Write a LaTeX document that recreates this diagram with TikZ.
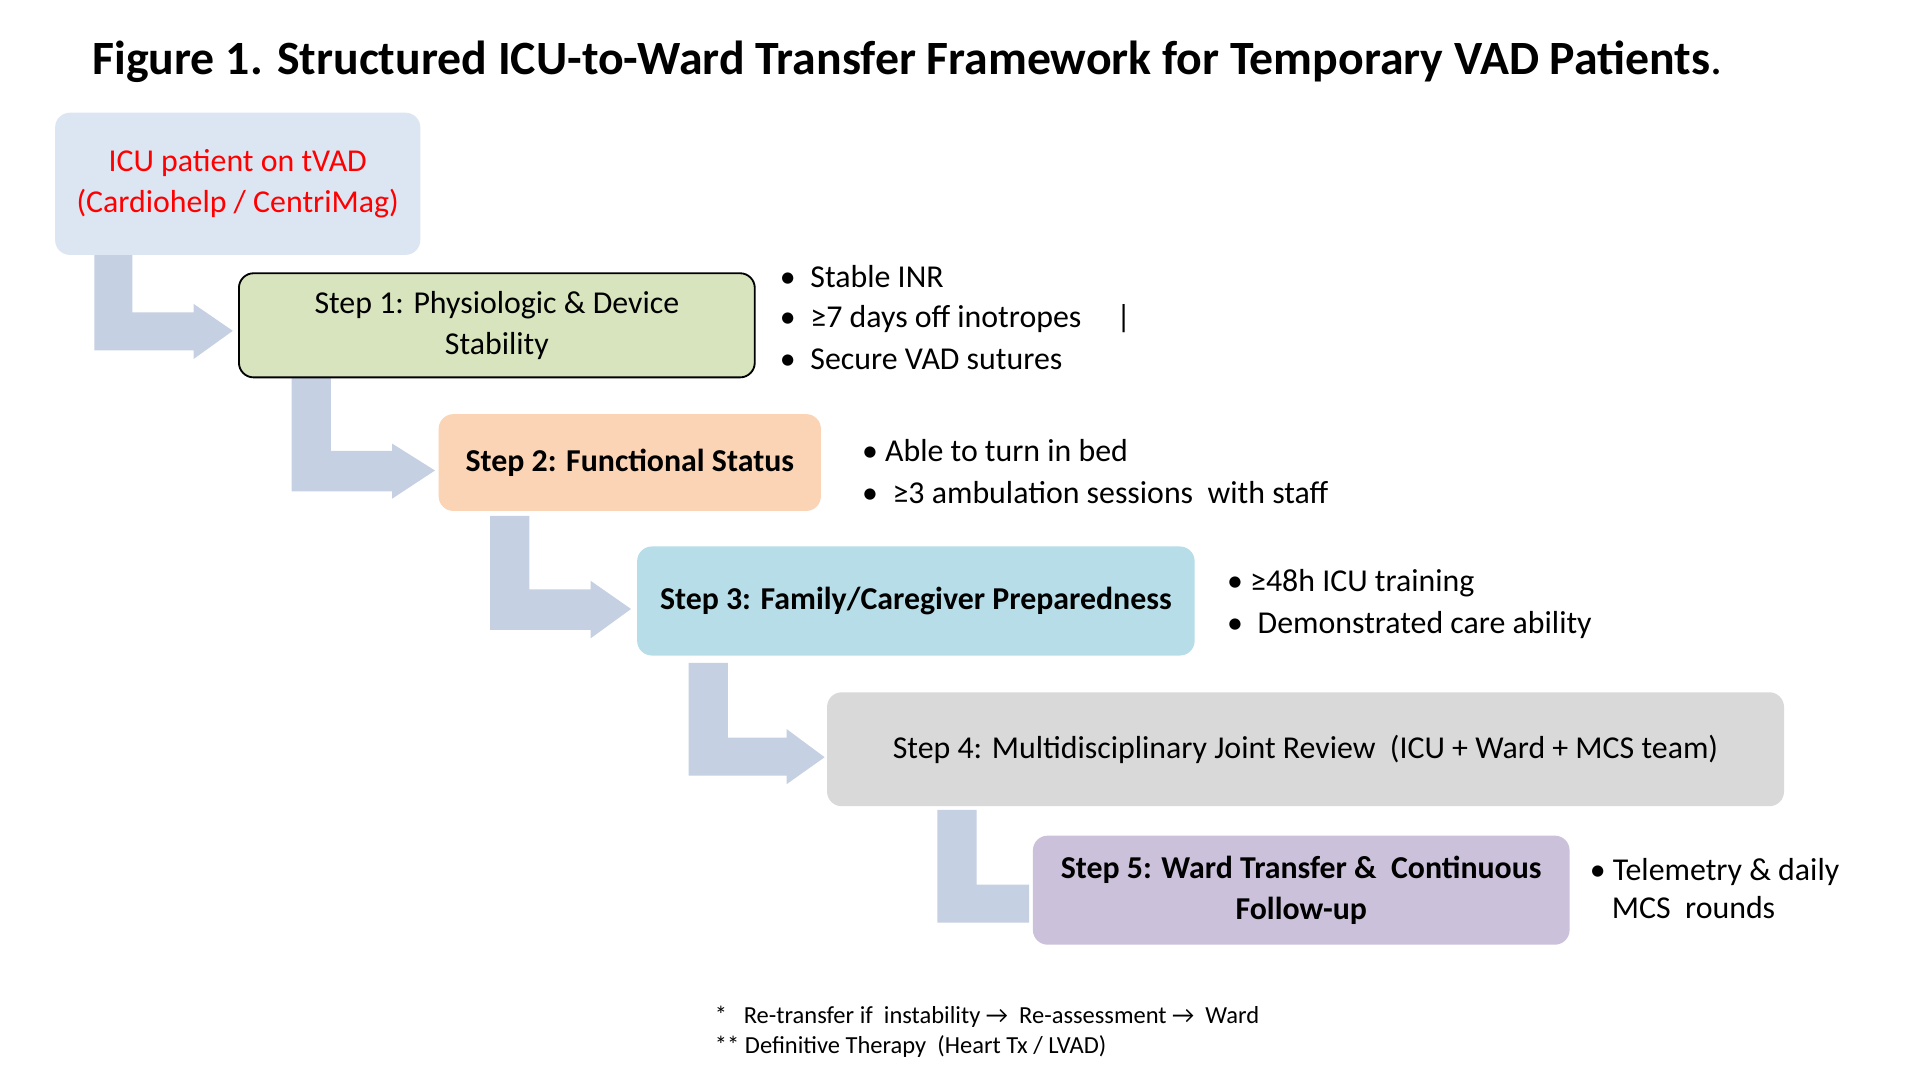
\documentclass[tikz,border=0pt]{standalone}
\usepackage{fontspec}
\setmainfont{Carlito}
\begin{document}
\begin{tikzpicture}[x=1pt,y=-1pt,
 box/.style={rounded corners=12pt,align=center,inner sep=0pt},
 arr/.style={fill=arrc,draw=none},
 txt/.style={font=\fontsize{26}{33}\selectfont},
 btxt/.style={font=\bfseries\fontsize{26}{33}\selectfont},
 bl/.style={txt,anchor=west,align=left}]
\definecolor{arrc}{HTML}{C6D0E3}
\useasboundingbox (0,0) rectangle (1567,881);
\fill[white] (0,0) rectangle (1567,881);
\node[anchor=west,font=\bfseries\fontsize{39}{44}\selectfont] (title) at (72,50) {Figure 1. Structured ICU-to-Ward Transfer Framework for Temporary VAD Patients\textmd{.}};
% arrows
\fill[arr] (77,208)--(77,286)--(158,286)--(158,293)--(190,270)--(158,248)--(158,255)--(108,255)--(108,208)--cycle;
\fill[arr] (238,308)--(238,401)--(320,401)--(320,407)--(355,384)--(320,362)--(320,368)--(270,368)--(270,308)--cycle;
\fill[arr] (400,421)--(400,514)--(482,514)--(482,521)--(515,497)--(482,474)--(482,481)--(432,481)--(432,421)--cycle;
\fill[arr] (562,541)--(562,633)--(642,633)--(642,640)--(673,618)--(642,595)--(642,602)--(594,602)--(594,541)--cycle;
\fill[arr] (765,661)--(765,753)--(840,753)--(840,722)--(797,722)--(797,661)--cycle;
% boxes
\node[box,fill={rgb,255:red,220;green,230;blue,242},minimum width=298,minimum height=116,txt,text={rgb,255:red,255;green,0;blue,0}] (icu) at (194,150) {ICU patient on tVAD\\(Cardiohelp / CentriMag)};
\node[box,fill={rgb,255:red,215;green,228;blue,189},draw=black,line width=1.5pt,minimum width=421,minimum height=85,txt] (s1) at (405.5,265.5) {Step 1: Physiologic \& Device\\Stability};
\node[box,fill={rgb,255:red,250;green,212;blue,180},minimum width=312,minimum height=79,btxt] (s2) at (514,377.5) {Step 2: Functional Status};
\node[box,fill={rgb,255:red,183;green,222;blue,232},minimum width=455,minimum height=89,btxt] (s3) at (747.5,490.5) {Step 3: Family/Caregiver Preparedness};
\node[box,fill={rgb,255:red,217;green,217;blue,217},minimum width=781,minimum height=93,txt] (s4) at (1065.5,611.5) {Step 4: Multidisciplinary Joint Review\ \ (ICU + Ward + MCS team)};
\node[box,fill={rgb,255:red,204;green,193;blue,218},minimum width=438,minimum height=89,btxt] (s5) at (1062,726.5) {Step 5: Ward Transfer \&\ \ Continuous\\Follow-up};
% bullets
\node[bl] (b1) at (633,226) {•\hspace{12pt}Stable INR};
\node[bl] (b2) at (633,260) {•\hspace{12pt}≥7 days off inotropes};
\node[bl] (b3) at (633,293) {•\hspace{12pt}Secure VAD sutures};
\node[txt] (pipe) at (917,260) {|};
\node[bl] (b4) at (700,368) {• Able to turn in bed};
\node[bl] (b5) at (700,402) {•\hspace{12pt}≥3 ambulation sessions\ \ with staff};
\node[bl] (b6) at (998,476) {• ≥48h ICU training};
\node[bl] (b7) at (998,510) {•\hspace{12pt}Demonstrated care ability};
\node[bl] (b8) at (1294,712) {• Telemetry \& daily};
\node[bl] (b9) at (1312,741) {MCS\ \ rounds};
% footnotes
\node[anchor=west,font=\fontsize{20}{24}\selectfont] (f1) at (580,830) {*\ \ \ Re-transfer if\ \ instability → \ Re-assessment → \ Ward};
\node[anchor=west,font=\fontsize{20}{24}\selectfont] (f2) at (580,854) {** Definitive Therapy\ \ (Heart Tx / LVAD)};
\end{tikzpicture}
\end{document}
